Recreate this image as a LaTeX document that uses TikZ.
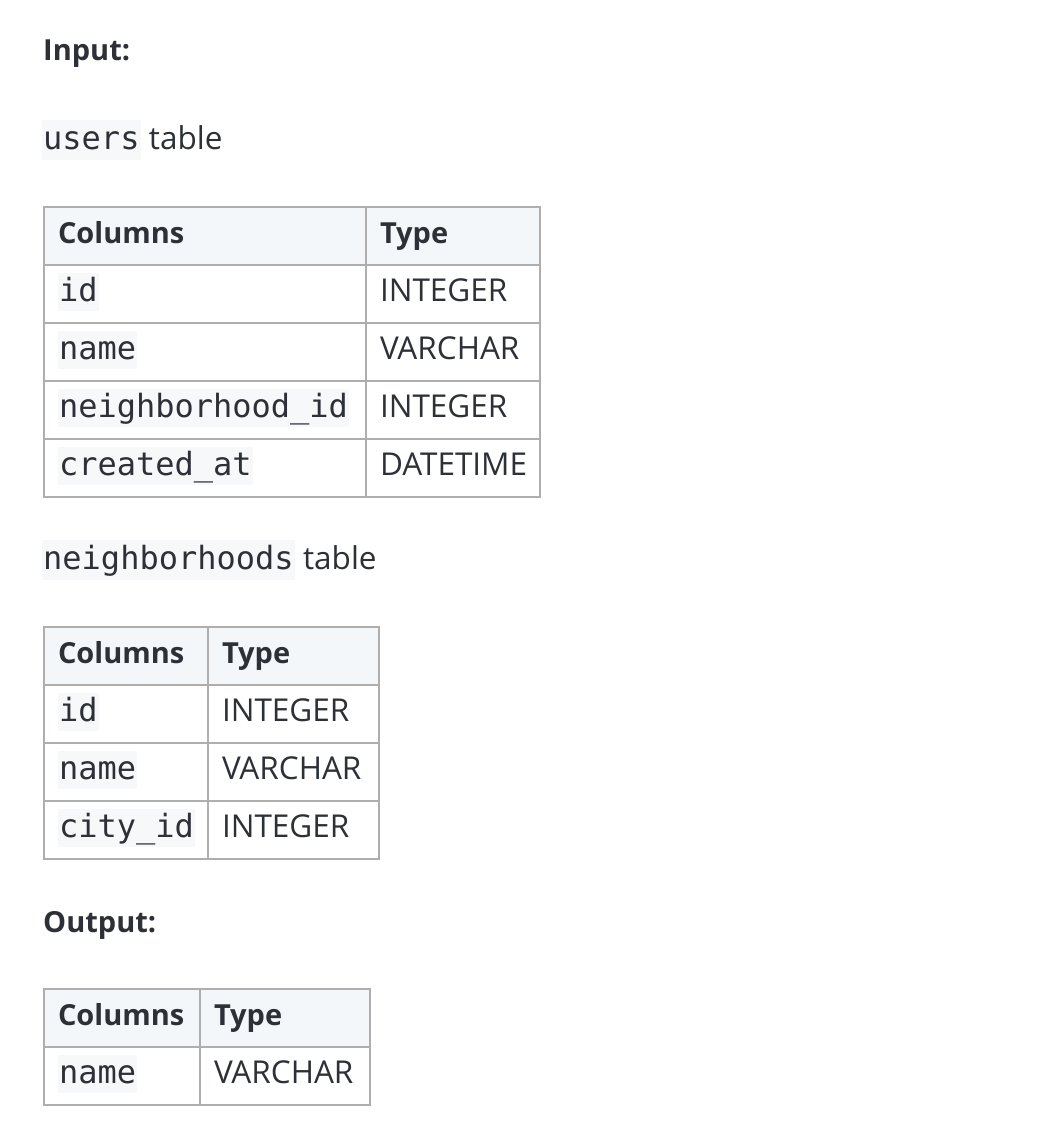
\documentclass[tikz,border=0pt]{standalone}
\usepackage{fontspec}
\setmainfont{Open Sans}
\setmonofont{DejaVu Sans Mono}
\usepackage{xcolor}
\usetikzlibrary{positioning}
\definecolor{ink}{HTML}{2D3137}
\definecolor{gridgray}{HTML}{AEAEAE}
\definecolor{headbg}{HTML}{F4F7FA}
\definecolor{codebg}{HTML}{F6F8FA}
\newcommand{\code}[1]{{\setlength{\fboxsep}{1pt}\colorbox{codebg}{\ttfamily\fontsize{32}{38}\selectfont\rule[-9pt]{0pt}{36pt}#1}}}
\tikzset{
  txt/.style={anchor=base west, inner sep=0pt, text=ink, font=\fontsize{31.5}{37}\selectfont},
  bold/.style={txt, font=\fontsize{29}{35}\selectfont\bfseries},
  codebox/.style={anchor=base west, inner xsep=1pt, inner ysep=0pt, text height=29pt, text depth=11pt, fill=codebg, text=ink, font=\ttfamily\fontsize{32}{38}\selectfont},
  cell/.style={draw=gridgray, line width=2pt, anchor=north west, inner xsep=14pt, inner ysep=0pt, minimum height=58pt, text width=#1, align=left, text height=22pt, text depth=8pt, text=ink, font=\fontsize{31.5}{37}\selectfont},
  head/.style={cell=#1, fill=headbg, font=\fontsize{29}{35}\selectfont\bfseries}
}
\begin{document}
\begin{tikzpicture}[x=1pt, y=-1pt]
\useasboundingbox[fill=white] (0,0) rectangle (1044,1132);
\node[bold] (input) at (43, 61) {Input:};
% users
\node[codebox] (usersCode) at (42, 149) {users};
\node[txt] (usersTxt) at ([xshift=8pt]usersCode.base east) {table};
\node[head=294pt] (uH1) at (43, 206) {Columns};
\node[head=146pt] (uH2) at (365, 206) {Type};
\node[cell=294pt] (uC1) at (43, 264) {\code{id}};
\node[cell=146pt] (uT1) at (365, 264) {INTEGER};
\node[cell=294pt] (uC2) at (43, 322) {\code{name}};
\node[cell=146pt] (uT2) at (365, 322) {VARCHAR};
\node[cell=294pt] (uC3) at (43, 380) {\code{neighborhood\_id}};
\node[cell=146pt] (uT3) at (365, 380) {INTEGER};
\node[cell=294pt] (uC4) at (43, 438) {\code{created\_at}};
\node[cell=146pt] (uT4) at (365, 438) {DATETIME};
% neighborhoods
\node[codebox] (nbhCode) at (42, 569) {neighborhoods};
\node[txt] (nbhTxt) at ([xshift=8pt]nbhCode.base east) {table};
\node[head=136pt] (nH1) at (43, 626) {Columns};
\node[head=143pt] (nH2) at (207, 626) {Type};
\node[cell=136pt] (nC1) at (43, 684) {\code{id}};
\node[cell=143pt] (nT1) at (207, 684) {INTEGER};
\node[cell=136pt] (nC2) at (43, 742) {\code{name}};
\node[cell=143pt] (nT2) at (207, 742) {VARCHAR};
\node[cell=136pt] (nC3) at (43, 800) {\code{city\_id}};
\node[cell=143pt] (nT3) at (207, 800) {INTEGER};
% output
\node[bold] (output) at (43, 932) {Output:};
\node[head=128pt] (oH1) at (43, 988) {Columns};
\node[head=142pt] (oH2) at (199, 988) {Type};
\node[cell=128pt] (oC1) at (43, 1046) {\code{name}};
\node[cell=142pt] (oT1) at (199, 1046) {VARCHAR};
\end{tikzpicture}
\end{document}
